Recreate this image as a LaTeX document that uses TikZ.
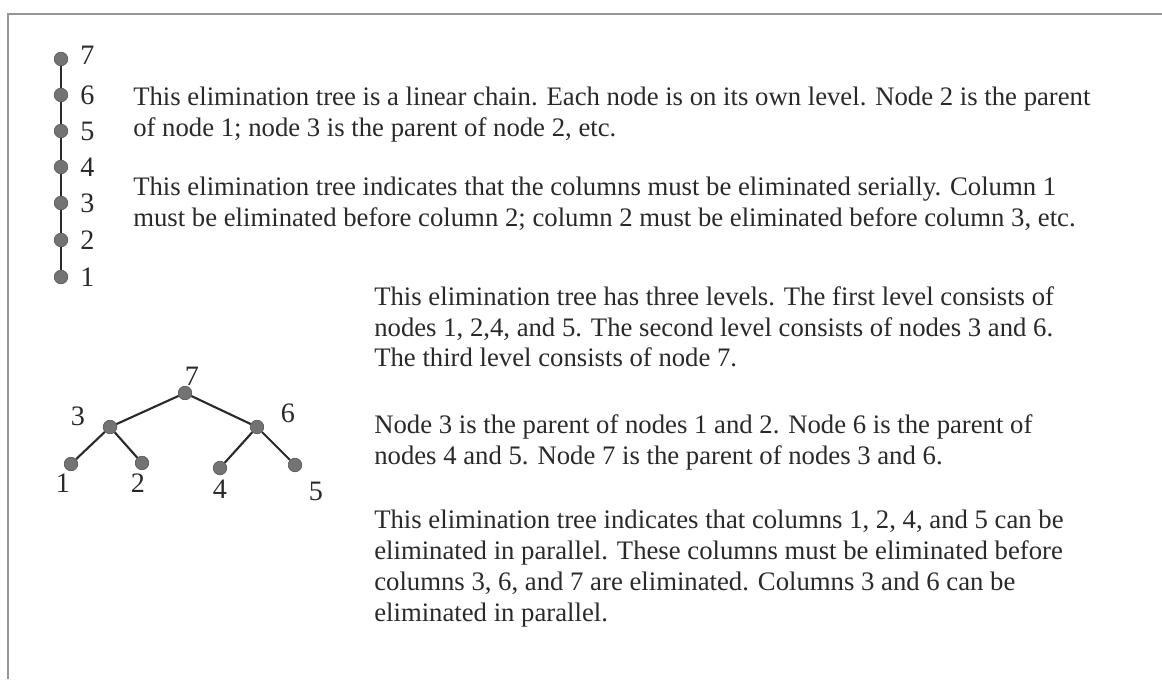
\documentclass[tikz,border=0pt]{standalone}
\usepackage{fontspec}
\setmainfont{Liberation Serif}
\usetikzlibrary{positioning}
\definecolor{inkgray}{RGB}{40,42,40}
\definecolor{dotgray}{RGB}{115,115,115}
\definecolor{framegray}{RGB}{150,150,150}
\tikzset{
  vertex/.style={circle,draw=dotgray!70!black,fill=dotgray,minimum size=3.4mm,inner sep=0pt},
  branch/.style={inkgray,line width=1.5pt},
  num/.style={font=\fontsize{20}{22}\selectfont,text=inkgray,inner sep=0pt},
  para/.style={align=left,anchor=north west,inner sep=0pt,
               font=\fontsize{19}{22}\selectfont,text=inkgray},
  frame/.style={framegray,line width=1.1pt},
}
\begin{document}
\begin{tikzpicture}[x=0.025cm,y=-0.025cm]
  \path[use as bounding box] (0,0) rectangle (1162,679);
  \coordinate (fl) at (8,679);
  \coordinate (ftl) at (8,14);
  \coordinate (ftr) at (1162,14);
  \draw[frame] (fl) -- (ftl) -- (ftr);

  \node[vertex] (c1) at (61,277) {};
  \node[vertex] (c2) at (61,240) {};
  \node[vertex] (c3) at (61,203) {};
  \node[vertex] (c4) at (61,167) {};
  \node[vertex] (c5) at (61,131) {};
  \node[vertex] (c6) at (61,95) {};
  \node[vertex] (c7) at (61,59) {};
  \draw[branch] (c1) -- (c2) -- (c3) -- (c4) -- (c5) -- (c6) -- (c7);
  \node[num,right=3mm of c1] (c1l) {1};
  \node[num,right=3mm of c2] (c2l) {2};
  \node[num,right=3mm of c3] (c3l) {3};
  \node[num,right=3mm of c4] (c4l) {4};
  \node[num,right=3mm of c5] (c5l) {5};
  \node[num,right=3mm of c6] (c6l) {6};
  \node[num,right=3mm of c7,yshift=1mm] (c7l) {7};

  \node[vertex] (n7) at (185,393) {};
  \node[vertex] (n3) at (110,427) {};
  \node[vertex] (n6) at (257,427) {};
  \node[vertex] (n1) at (71,464) {};
  \node[vertex] (n2) at (142,463) {};
  \node[vertex] (n4) at (220,468) {};
  \node[vertex] (n5) at (295,465) {};
  \draw[branch] (n7) -- (n3);
  \draw[branch] (n7) -- (n6);
  \draw[branch] (n3) -- (n1);
  \draw[branch] (n3) -- (n2);
  \draw[branch] (n6) -- (n4);
  \draw[branch] (n6) -- (n5);
  \node[num] (l7) at (192,376) {7};
  \node[num] (l3) at (78,416) {3};
  \node[num] (l6) at (288,413) {6};
  \node[num] (l1) at (63,483) {1};
  \node[num] (l2) at (138,483) {2};
  \node[num] (l4) at (220,489) {4};
  \node[num] (l5) at (316,491) {5};

  \node[para] (chainA) at (133,87)
    {This elimination tree is a linear chain. Each node is on its own level. Node 2 is the parent\\
     of node 1; node 3 is the parent of node 2, etc.};
  \node[para] (chainB) at (133,177)
    {This elimination tree indicates that the columns must be eliminated serially. Column 1\\
     must be eliminated before column 2; column 2 must be eliminated before column 3, etc.};
  \node[para] (treeA) at (374,286)
    {This elimination tree has three levels. The first level consists of\\
     nodes 1, 2,4, and 5. The second level consists of nodes 3 and 6.\\
     The third level consists of node 7.};
  \node[para] (treeB) at (374,414)
    {Node 3 is the parent of nodes 1 and 2. Node 6 is the parent of\\
     nodes 4 and 5. Node 7 is the parent of nodes 3 and 6.};
  \node[para] (treeC) at (374,510)
    {This elimination tree indicates that columns 1, 2, 4, and 5 can be\\
     eliminated in parallel. These columns must be eliminated before\\
     columns 3, 6, and 7 are eliminated. Columns 3 and 6 can be\\
     eliminated in parallel.};
\end{tikzpicture}
\end{document}
